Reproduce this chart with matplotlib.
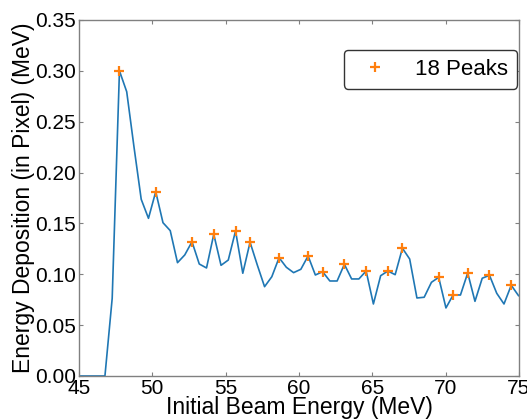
import matplotlib
matplotlib.use("Agg")
import matplotlib.pyplot as plt
import numpy as np

plt.rcParams['font.family'] = ['Liberation Sans', 'DejaVu Sans']

# Beam energy grid (MeV) and energy deposited in the pixel (MeV)
e_start, e_step = 44.79, 0.4947
deposition = [0.0, 0.0, 0.0, 0.0,
              0.0, 0.0764, 0.300, 0.2795, 0.2254, 0.1737, 0.1550, 0.1812,
              0.1507, 0.1429, 0.1114, 0.1190, 0.1320, 0.1101, 0.1062, 0.1393,
              0.1088, 0.1140, 0.1426, 0.1010, 0.1315, 0.1091, 0.0878, 0.0976,
              0.1163, 0.1069, 0.1016, 0.1049, 0.1180, 0.0993, 0.1025, 0.0934,
              0.0934, 0.1098, 0.0954, 0.0954, 0.1032, 0.0708, 0.0986, 0.1032,
              0.0996, 0.1256, 0.1150, 0.0767, 0.0774, 0.0921, 0.0970, 0.0669,
              0.0798, 0.0796, 0.1013, 0.0734, 0.0961, 0.0990, 0.0813, 0.0708,
              0.0892, 0.0790]
energy = e_start + e_step * np.arange(len(deposition))
peak_idx = [6, 11, 16, 19, 22, 24, 28, 32, 34, 37, 40, 43, 45, 50, 52, 54, 57, 60]

energy = np.asarray(energy)
deposition = np.asarray(deposition)

fig = plt.figure(figsize=(5.27, 4.20), dpi=100)
ax = fig.add_axes([0.1499, 0.1048, 0.8349, 0.8476])

ax.plot(energy, deposition, color='#1f77b4', lw=1.2)
ax.plot(energy[peak_idx], deposition[peak_idx], '+', color='#ff7f0e',
        ms=7.5, mew=1.6, label='%d Peaks' % len(peak_idx))

ax.set_xlim(45, 75)
ax.set_ylim(0, 0.35)
ax.set_xticks(np.arange(45, 76, 5))
ax.set_yticks(np.arange(0, 0.36, 0.05))
ax.yaxis.set_major_formatter(matplotlib.ticker.FormatStrFormatter('%.2f'))

for s in ax.spines.values():
    s.set_color('#808080')
    s.set_linewidth(1.0)
ax.tick_params(direction='in', length=3, width=0.8, color='#808080',
               labelsize=15, pad=2, top=True, right=True)

ax.set_xlabel('Initial Beam Energy (MeV)', fontsize=16.5, labelpad=-1)
ax.set_ylabel('Energy Deposition (in Pixel) (MeV)', fontsize=16.5, labelpad=0)

leg = ax.legend(loc='upper right', bbox_to_anchor=(0.9955, 0.9157),
                borderaxespad=0, fontsize=16, numpoints=1, framealpha=1,
                fancybox=True)
leg.get_frame().set_edgecolor('#333333')

fig.savefig('out.png', dpi=100)
